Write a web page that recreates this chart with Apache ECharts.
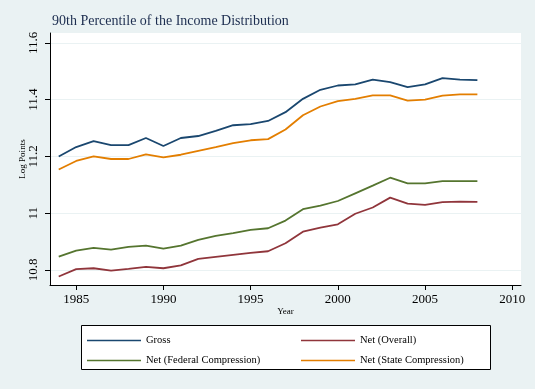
<!DOCTYPE html>
<html>
<head>
<meta charset="utf-8">
<script src="https://cdn.jsdelivr.net/npm/echarts@6/dist/echarts.min.js"></script>
<style>
  html, body { margin: 0; padding: 0; background: #eaf2f3; }
  #chart { width: 535px; height: 389px; }
</style>
</head>
<body>
<div id="chart"></div>
<script>
const years = [1984, 1985, 1986, 1987, 1988, 1989, 1990, 1991, 1992, 1993, 1994, 1995, 1996,
               1997, 1998, 1999, 2000, 2001, 2002, 2003, 2004, 2005, 2006, 2007, 2008];
const gross = [11.200, 11.233, 11.254, 11.240, 11.240, 11.265, 11.237, 11.265, 11.272, 11.290, 11.310, 11.314, 11.325,
               11.356, 11.403, 11.435, 11.450, 11.454, 11.471, 11.462, 11.444, 11.454, 11.476, 11.471, 11.469];
const netOverall = [10.777, 10.803, 10.806, 10.798, 10.804, 10.811, 10.806, 10.816, 10.839, 10.846, 10.853, 10.860, 10.866,
                    10.894, 10.935, 10.949, 10.961, 10.998, 11.020, 11.055, 11.034, 11.029, 11.039, 11.041, 11.040];
const netFederal = [10.847, 10.868, 10.878, 10.872, 10.881, 10.886, 10.875, 10.886, 10.906, 10.920, 10.930, 10.941, 10.947,
                    10.974, 11.014, 11.027, 11.043, 11.070, 11.097, 11.125, 11.105, 11.105, 11.113, 11.113, 11.113];
const netState = [11.154, 11.184, 11.200, 11.191, 11.191, 11.207, 11.197, 11.206, 11.220, 11.233, 11.247, 11.257, 11.261,
                  11.295, 11.345, 11.376, 11.395, 11.403, 11.415, 11.415, 11.397, 11.400, 11.414, 11.419, 11.419];
const xTicks = [1985, 1990, 1995, 2000, 2005, 2010];
const yTicks = [10.8, 11, 11.2, 11.4, 11.6];

const font = 'Liberation Serif';

const makeLine = (name, values, color) => ({
    name: name,
    type: 'line',
    symbol: 'none',
    lineStyle: { color: color, width: 1.8 },
    itemStyle: { color: color },
    data: years.map((y, i) => [y, values[i]])
});

// one legend per entry so the 2x2 grid lines up like the original
const legendAt = (name, left, top) => ({
    left: left, top: top,
    icon: 'rect',
    itemWidth: 54, itemHeight: 1.3,
    textStyle: { fontFamily: font, fontSize: 10.5, color: '#000' },
    data: [name]
});

const chart = echarts.init(document.getElementById('chart'));

const option = {
    backgroundColor: '#eaf2f3',
    animation: false,
    title: {
        text: '90th Percentile of the Income Distribution',
        left: 47,
        top: 9,
        textStyle: { fontFamily: font, fontSize: 14, fontWeight: 'normal', color: '#1c2d4f' }
    },
    grid: {
        left: 50, top: 33, right: 14, bottom: 104,
        show: true, backgroundColor: '#fff', borderWidth: 0
    },
    xAxis: {
        type: 'value',
        min: 1983.5,
        max: 2010.5,
        name: 'Year',
        nameLocation: 'middle',
        nameGap: 22,
        nameMoveOverlap: false,
        nameTextStyle: { fontFamily: font, fontSize: 9, color: '#000' },
        axisLine: { lineStyle: { color: '#000', width: 1 } },
        axisTick: { length: 5, lineStyle: { color: '#000' }, customValues: xTicks },
        axisLabel: { fontFamily: font, fontSize: 13, color: '#000', margin: 8, customValues: xTicks,
                     formatter: v => String(v) },
        splitLine: { show: false }
    },
    yAxis: {
        type: 'value',
        min: 10.747,
        max: 11.635,
        name: 'Log Points',
        nameLocation: 'middle',
        nameGap: 23,
        nameMoveOverlap: false,
        nameTextStyle: { fontFamily: font, fontSize: 9, color: '#000' },
        axisLine: { show: true, lineStyle: { color: '#000', width: 1 } },
        axisTick: { show: true, length: 5, lineStyle: { color: '#000' }, customValues: yTicks },
        axisLabel: { fontFamily: font, fontSize: 13, color: '#000', rotate: 90, margin: 10,
                     customValues: yTicks, formatter: v => String(+v.toFixed(1)) },
        splitLine: { show: true, lineStyle: { color: '#eaf2f3', width: 1 } }
    },
    legend: [
        legendAt('Gross', 82, 330),
        legendAt('Net (Overall)', 296, 330),
        legendAt('Net (Federal Compression)', 82, 350),
        legendAt('Net (State Compression)', 296, 350)
    ],
    graphic: [
        {
            type: 'rect',
            z: -1,
            shape: { x: 81.5, y: 325.5, width: 409, height: 44 },
            style: { fill: '#fff', stroke: '#000', lineWidth: 1 }
        }
    ],
    series: [
        makeLine('Gross', gross, '#1a476f'),
        makeLine('Net (Overall)', netOverall, '#90353b'),
        makeLine('Net (Federal Compression)', netFederal, '#55752f'),
        makeLine('Net (State Compression)', netState, '#e37e00')
    ]
};

chart.setOption(option);
</script>
</body>
</html>
